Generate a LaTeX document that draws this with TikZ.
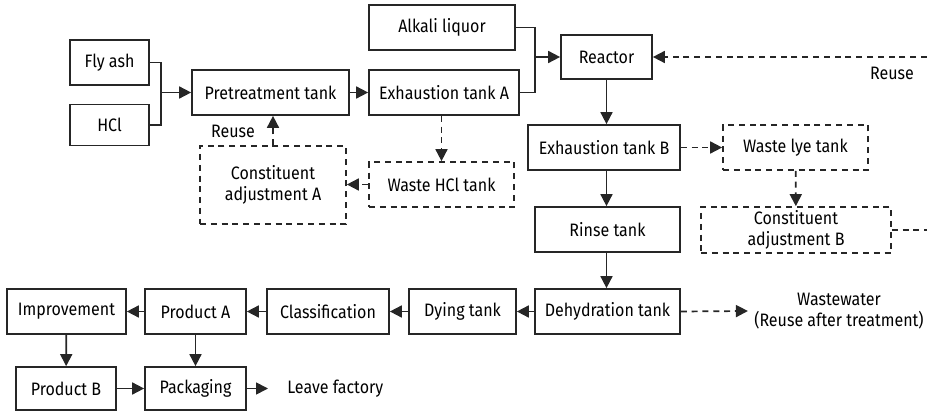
\documentclass[tikz,border=0pt]{standalone}
\usepackage{fontspec}
\setmainfont{Fira Sans}[FakeStretch=0.89]
\usepackage{tikz}
\usetikzlibrary{calc, positioning, arrows.meta}
\tikzset{
    box/.style={rectangle, draw=black!85, line width=0.85pt, fill=white, align=center, inner sep=1pt, font=\fontsize{9}{10.5}\selectfont},
    dbox/.style={box, dashed, dash pattern=on 3pt off 2.4pt},
    txt/.style={align=center, inner sep=3pt, font=\fontsize{9}{10.5}\selectfont},
    arrow/.style={-{Triangle[length=6pt, width=6pt]}, line width=0.85pt, draw=black!85},
    darrow/.style={arrow, dash pattern=on 3pt off 2.4pt},
    link/.style={line width=0.85pt, draw=black!85}
}

\begin{document}
\begin{tikzpicture}[x=0.5pt, y=-0.5pt]
        \useasboundingbox (0,0) rectangle (927,411);

        % Raw materials
        \node[box, minimum width=39.5pt, minimum height=22.5pt] (FlyAsh) at (109.5,62.5) {Fly ash};
        \node[box, minimum width=39.5pt, minimum height=20.5pt] (HCl) at (109.5,125) {HCl};
        \node[box, minimum width=78.5pt, minimum height=22.5pt] (Pretreat) at (270.5,92.5) {Pretreatment tank};
        \node[box, minimum width=75pt, minimum height=22.5pt] (ExhA) at (444,92.5) {Exhaustion tank A};
        \node[box, minimum width=73pt, minimum height=22.5pt] (Alkali) at (442,27.5) {Alkali liquor};
        \node[box, minimum width=45.5pt, minimum height=22pt] (Reactor) at (606.5,57) {Reactor};

        % Acid recycling
        \node[dbox, minimum width=72.5pt, minimum height=22.5pt] (WasteHCl) at (441.5,184.5) {Waste HCl tank};
        \node[dbox, minimum width=73pt, minimum height=39pt] (AdjA) at (273,185) {Constituent\\adjustment A};

        % Alkali line
        \node[box, minimum width=76pt, minimum height=22.5pt] (ExhB) at (604,147.5) {Exhaustion tank B};
        \node[dbox, minimum width=72.5pt, minimum height=22.5pt] (WasteLye) at (795.5,147.5) {Waste lye tank};
        \node[dbox, minimum width=95pt, minimum height=23pt] (AdjB) at (796,230) {Constituent\\adjustment B};
        \node[box, minimum width=72.5pt, minimum height=22.5pt] (Rinse) at (607.5,229.5) {Rinse tank};

        % Bottom rows
        \node[box, minimum width=72.5pt, minimum height=22.5pt] (Dehyd) at (607.5,311.5) {Dehydration tank};
        \node[box, minimum width=53.5pt, minimum height=22.5pt] (Dying) at (462.5,311.5) {Dying tank};
        \node[box, minimum width=61pt, minimum height=22.5pt] (Classif) at (328,311.5) {Classification};
        \node[box, minimum width=50.5pt, minimum height=22.5pt] (ProdA) at (195.5,311.5) {Product A};
        \node[box, minimum width=59.5pt, minimum height=22.5pt] (Improve) at (66.5,311.5) {Improvement};
        \node[box, minimum width=50pt, minimum height=21.5pt] (ProdB) at (66,388.5) {Product B};
        \node[box, minimum width=50.5pt, minimum height=21.5pt] (Pack) at (195.5,388.5) {Packaging};
        \node[txt, anchor=west, inner xsep=9.5pt] (Leave) at (268,388.5) {Leave factory};
        \node[txt] (Wastewater) at (839,311) {Wastewater\\(Reuse after treatment)};

        % Reuse labels and loose ends
        \node[txt] (ReuseA) at (233,131) {Reuse};
        \node[txt] (ReuseB) at (892,73) {Reuse};
        \coordinate (JoinA) at (161,92.5);
        \coordinate (JoinR) at (535,57);
        \coordinate (EdgeTop) at (927,57);
        \coordinate (EdgeMid) at (927,230);

        % Main flow
        \draw[link] (FlyAsh.east) -| (JoinA);
        \draw[link] (HCl.east) -| (JoinA);
        \draw[arrow] (JoinA) -- (Pretreat.west);
        \draw[arrow] (Pretreat) -- (ExhA);
        \draw[link] (Alkali.east) -| (JoinR);
        \draw[link] (ExhA.east) -| (JoinR);
        \draw[arrow] (JoinR) -- (Reactor.west);
        \draw[arrow] (Reactor.south) -- (Reactor.south |- ExhB.north);
        \draw[arrow] (Reactor.south |- ExhB.south) -- (Reactor.south |- Rinse.north);
        \draw[arrow] (Reactor.south |- Rinse.south) -- (Reactor.south |- Dehyd.north);
        \draw[arrow] (Dehyd) -- (Dying);
        \draw[arrow] (Dying) -- (Classif);
        \draw[arrow] (Classif) -- (ProdA);
        \draw[arrow] (ProdA) -- (Improve);
        \draw[arrow] (Improve) -- (ProdB);
        \draw[arrow] (ProdA) -- (Pack);
        \draw[arrow] (ProdB) -- (Pack);
        \draw[arrow] (Pack.east) -- (Leave.west);

        % Recycling (dashed)
        \draw[darrow] (ExhA.south -| WasteHCl.north) -- (WasteHCl.north);
        \draw[darrow] (WasteHCl.west) -- (WasteHCl.west -| AdjA.east);
        \draw[darrow] (AdjA.north) -- (AdjA.north |- Pretreat.south);
        \draw[darrow] (ExhB) -- (WasteLye);
        \draw[darrow] (WasteLye) -- (AdjB);
        \draw[link, dash pattern=on 3pt off 2.4pt] (AdjB.east) -- (EdgeMid);
        \draw[darrow] (EdgeTop) -- (Reactor.east);
        \draw[darrow] (Dehyd.east) -- (Wastewater.west);
    \end{tikzpicture}
\end{document}
